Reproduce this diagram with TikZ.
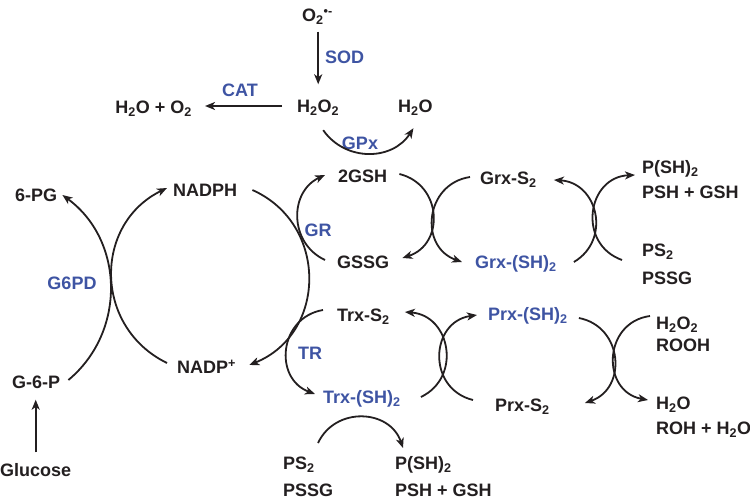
\documentclass[tikz,border=0pt]{standalone}
\usepackage{fontspec}
\setmainfont{Liberation Sans}
\usetikzlibrary{arrows.meta}
\definecolor{ink}{RGB}{35,31,32}
\definecolor{enz}{RGB}{62,84,163}
\begin{document}
\begin{tikzpicture}[x=1pt,y=-1pt,
  lbl/.style={font=\fontsize{18}{20}\selectfont\bfseries, text=ink, inner sep=0pt, text height=13pt, text depth=0pt},
  enzl/.style={lbl, text=enz},
  arr/.style={draw=ink, line width=1.8pt, -{Stealth[length=10pt,width=8pt,inset=2.8pt]}}]
\useasboundingbox (0,0) rectangle (750,501);

% nodes
\node[lbl, anchor=west] (o2) at (302,15) {O\textsubscript{2}\textsuperscript{•-}};
\node[enzl, anchor=west] (sod) at (325,57) {SOD};
\node[lbl, anchor=west] (h2o2t) at (297,106) {H\textsubscript{2}O\textsubscript{2}};
\node[lbl, anchor=west] (h2ot) at (398,106) {H\textsubscript{2}O};
\node[enzl] (cat) at (240,90) {CAT};
\node[lbl, anchor=east] (h2oo2) at (192,107) {H\textsubscript{2}O + O\textsubscript{2}};
\node[enzl] (gpx) at (360,143) {GPx};
\node[lbl, anchor=west] (pg) at (15,195) {6-PG};
\node[lbl, anchor=west] (nadph) at (173,190) {NADPH};
\node[lbl, anchor=west] (g6p) at (12,382) {G-6-P};
\node[lbl, anchor=west] (nadpp) at (177,367) {NADP\textsuperscript{+}};
\node[lbl, anchor=west] (glc) at (0,470) {Glucose};
\node[enzl] (g6pd) at (72,283) {G6PD};
\node[lbl, anchor=west] (gsh) at (338,176) {2GSH};
\node[lbl, anchor=west] (gssg) at (337,262) {GSSG};
\node[enzl] (gr) at (318,230) {GR};
\node[lbl, anchor=west] (grxs) at (480,178) {Grx-S\textsubscript{2}};
\node[enzl, anchor=west] (grxsh) at (475,262) {Grx-(SH)\textsubscript{2}};
\node[lbl, anchor=west] (psha) at (642,167) {P(SH)\textsubscript{2}};
\node[lbl, anchor=west] (pshb) at (642,192) {PSH + GSH};
\node[lbl, anchor=west] (psa) at (642,250) {PS\textsubscript{2}};
\node[lbl, anchor=west] (psb) at (642,278) {PSSG};
\node[lbl, anchor=west] (trxs) at (337,315) {Trx-S\textsubscript{2}};
\node[enzl, anchor=west] (trxsh) at (323,397) {Trx-(SH)\textsubscript{2}};
\node[enzl] (tr) at (310,353) {TR};
\node[enzl, anchor=west] (prxsh) at (488,314) {Prx-(SH)\textsubscript{2}};
\node[lbl, anchor=west] (prxs) at (495,405) {Prx-S\textsubscript{2}};
\node[lbl, anchor=west] (h2o2r) at (656,323) {H\textsubscript{2}O\textsubscript{2}};
\node[lbl, anchor=west] (rooh) at (656,345) {ROOH};
\node[lbl, anchor=west] (h2or) at (656,403) {H\textsubscript{2}O};
\node[lbl, anchor=west] (rohw) at (656,428) {ROH + H\textsubscript{2}O};
\node[lbl, anchor=west] (bpsa) at (283,463) {PS\textsubscript{2}};
\node[lbl, anchor=west] (bpsb) at (283,490) {PSSG};
\node[lbl, anchor=west] (bpsha) at (395,463) {P(SH)\textsubscript{2}};
\node[lbl, anchor=west] (bpshb) at (395,490) {PSH + GSH};

% straight arrows
\draw[arr, shorten <=10pt, shorten >=15pt] (h2o2t.north |- o2.south) -- (h2o2t.north);
\draw[arr, shorten <=15pt, shorten >=13pt] (h2o2t.west) -- (h2o2t.west -| h2oo2.east);
\draw[arr, shorten <=11pt, shorten >=11pt] (glc.north) -- (glc.north |- g6p.south);

% G6PD cross
\draw[arr] ([xshift=8pt,yshift=2pt]g6p.east) to[bend right=52, looseness=1.05] ([xshift=5pt]pg.east);
\draw[arr] ([xshift=-10pt,yshift=4pt]nadpp.west) to[bend left=64, looseness=1.2] ([xshift=-6pt,yshift=2pt]nadph.west);
% NADPH -> NADP+
\draw[arr] ([xshift=15pt]nadph.east) to[bend left=67, looseness=1.22] ([xshift=13pt,yshift=2pt]nadpp.east);
% GR
\draw[arr] ([xshift=-12pt,yshift=2pt]gssg.west) to[bend left=65, looseness=1.2] ([xshift=-13pt,yshift=1pt]gsh.west);
% GPx
\draw[arr] ([xshift=5pt,yshift=-17.5pt]h2o2t.south) to[bend right=56, looseness=1.1] ([xshift=-2pt,yshift=-15.5pt]h2ot.south);
% GSH / Grx cross
\draw[arr] ([xshift=12pt,yshift=2pt]gsh.east) to[bend left=74, looseness=1.35] ([xshift=13pt,yshift=4pt]gssg.east);
\draw[arr] ([xshift=-10pt,yshift=1pt]grxs.west) to[bend right=76, looseness=1.37] ([xshift=-13pt]grxsh.west);
% Grx / P cross
\draw[arr] ([xshift=17pt]grxsh.east) to[bend right=73, looseness=1.33] ([xshift=17pt,yshift=-2pt]grxs.east);
\draw[arr] ([xshift=-20pt,yshift=-10pt]psa.west) to[bend left=79, looseness=1.43] ([xshift=-7pt,yshift=-8pt]psha.west);
% TR
\draw[arr] ([xshift=-14pt,yshift=5pt]trxs.west) to[bend right=75, looseness=1.35] ([xshift=-8pt,yshift=3pt]trxsh.west);
% Trx / Prx cross
\draw[arr] ([xshift=20pt]trxsh.east) to[bend right=75, looseness=1.35] ([xshift=15pt,yshift=3pt]trxs.east);
\draw[arr] ([xshift=-22pt,yshift=5pt]prxs.west) to[bend left=79, looseness=1.43] ([xshift=-11pt,yshift=-1pt]prxsh.west);
% Prx / H2O2 cross
\draw[arr] ([xshift=11pt,yshift=-4pt]prxsh.east) to[bend left=75, looseness=1.35] ([xshift=35pt,yshift=2pt]prxs.east);
\draw[arr] ([xshift=-6pt,yshift=7pt]h2o2r.west) to[bend right=81, looseness=1.45] ([xshift=-8pt,yshift=3pt]h2or.west);
% bottom
\draw[arr] ([xshift=35pt,yshift=20pt]bpsa.west) to[bend left=68, looseness=1.23] ([xshift=8pt,yshift=15pt]bpsha.west);
\end{tikzpicture}
\end{document}
